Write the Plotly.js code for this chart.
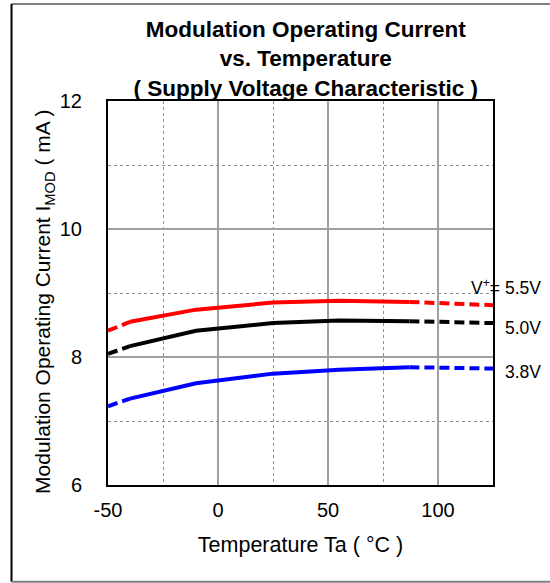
<!DOCTYPE html>
<html>
<head>
<meta charset="utf-8">
<script src="https://cdn.plot.ly/plotly-3.0.1.min.js"></script>
<style>
  html, body { margin: 0; padding: 0; background: #fff; }
  #chart { width: 550px; height: 583px; }
</style>
</head>
<body>
<div id="chart"></div>
<script>
// Data
const temps = [-50, -40, -10, 25, 55, 87, 125];
const current55 = [8.41, 8.55, 8.74, 8.85, 8.88, 8.86, 8.81];
const current50 = [8.05, 8.17, 8.41, 8.53, 8.57, 8.56, 8.53];
const current38 = [7.23, 7.35, 7.59, 7.74, 7.80, 7.84, 7.82];
const seriesLabels = ['V<sup>+</sup>= 5.5V', '5.0V', '3.8V'];
const seriesColors = ['#ff0000', '#000000', '#0000ff'];
const labelY = [9.09, 8.46, 7.76];
const xTickVals = [-50, 0, 50, 100];
const xTickText = ['-50', '0', '50', '100'];
// indices: solid between these points, dashed outside
const solidStart = 1, solidEnd = 5;

const FONT = 'Liberation Sans, Arial, sans-serif';
const allSeries = [current55, current50, current38];
const traces = [];
allSeries.forEach((vals, i) => {
  const c = seriesColors[i];
  traces.push({
    x: temps.slice(0, solidStart + 1), y: vals.slice(0, solidStart + 1),
    mode: 'lines', line: {color: c, width: 4, dash: '10px,5px'}, hoverinfo: 'skip', showlegend: false
  });
  traces.push({
    x: temps.slice(solidStart, solidEnd + 1), y: vals.slice(solidStart, solidEnd + 1),
    mode: 'lines', line: {color: c, width: 4}, showlegend: false
  });
  traces.push({
    x: temps.slice(solidEnd), y: vals.slice(solidEnd),
    mode: 'lines', line: {color: c, width: 4, dash: '10px,5px'}, hoverinfo: 'skip', showlegend: false
  });
});

const annotations = seriesLabels.map((t, i) => ({
  text: t, xref: 'paper', x: 1.13, xanchor: 'right',
  yref: 'y', y: labelY[i], yanchor: 'middle', showarrow: false,
  font: {family: FONT, size: 17.5, color: '#000'}
}));

const layout = {
  width: 550, height: 583,
  margin: {l: 108, r: 57, t: 101, b: 98},
  paper_bgcolor: '#fff', plot_bgcolor: '#fff',
  font: {family: FONT, color: '#000'},
  title: {
    text: '<b>Modulation Operating Current<br>vs. Temperature<br>( Supply Voltage Characteristic )</b>',
    font: {family: FONT, size: 22.5, color: '#000'},
    xref: 'container', x: 0.556, xanchor: 'center',
    yref: 'container', y: 1 - 37 / 583, yanchor: 'top'
  },
  xaxis: {
    range: [-50, 125], tickmode: 'array', tickvals: xTickVals, ticktext: xTickText,
    showline: true, linecolor: '#000', linewidth: 2, mirror: true,
    showgrid: true, gridcolor: '#a0a0a0', gridwidth: 1.5,
    zeroline: false, ticks: '', ticklabelstandoff: 6,
    tickfont: {family: FONT, size: 20, color: '#000'},
    minor: {dtick: 25, tick0: 0, showgrid: true, gridcolor: '#909090', gridwidth: 1, griddash: 'dot'},
    title: {text: 'Temperature Ta ( °C )', font: {family: FONT, size: 21.5, color: '#000'}, standoff: 17},
    automargin: false, fixedrange: true
  },
  yaxis: {
    range: [6, 12], dtick: 2, tick0: 6,
    showline: true, linecolor: '#000', linewidth: 2, mirror: true,
    showgrid: true, gridcolor: '#a0a0a0', gridwidth: 1.5,
    zeroline: false, ticks: '', ticklabelstandoff: 20,
    tickfont: {family: FONT, size: 20, color: '#000'},
    minor: {dtick: 1, tick0: 6, showgrid: true, gridcolor: '#909090', gridwidth: 1, griddash: 'dot'},
    title: {text: 'Modulation Operating Current I<sub>MOD</sub> ( mA )&nbsp;&nbsp;&nbsp;', font: {family: FONT, size: 21, color: '#000'}, standoff: 3},
    automargin: false, fixedrange: true
  },
  annotations: annotations,
  shapes: [
    {type: 'line', xref: 'paper', yref: 'paper', x0: -0.2506, x1: 2, y0: 1.2526, y1: 1.2526, line: {color: '#808080', width: 2}},
    {type: 'line', xref: 'paper', yref: 'paper', x0: -0.2506, x1: -0.2506, y0: -0.2518, y1: 1.2526, line: {color: '#000', width: 2}},
    {type: 'line', xref: 'paper', yref: 'paper', x0: -0.2506, x1: 2, y0: -0.2518, y1: -0.2518, line: {color: '#808080', width: 2}}
  ]
};

Plotly.newPlot('chart', traces, layout, {displayModeBar: false, staticPlot: true});
</script>
</body>
</html>
